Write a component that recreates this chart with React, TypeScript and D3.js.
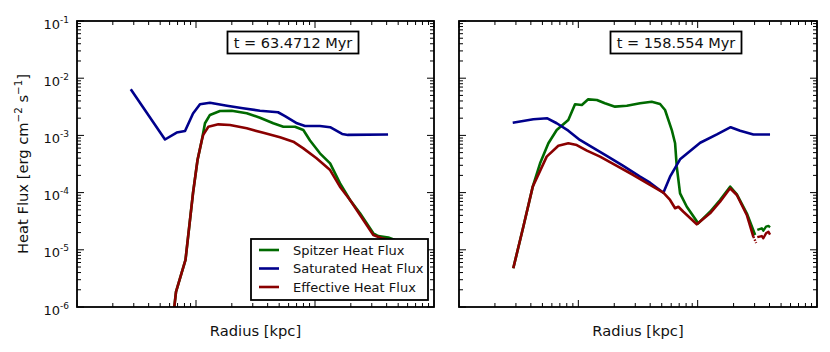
import React from "react";
import * as d3 from "d3";

// ---------- data ----------
const TIME_LABELS = ["t = 63.4712 Myr", "t = 158.554 Myr"];
const SERIES_NAMES = ["Spitzer Heat Flux", "Saturated Heat Flux", "Effective Heat Flux"];
const SERIES_COLORS = ["#006a00", "#00008c", "#8a0000"];
const Y_TICKS = [1e-6, 1e-5, 1e-4, 1e-3, 1e-2, 1e-1];
const Y_TICK_EXP = ["-6", "-5", "-4", "-3", "-2", "-1"];
const X_MAJOR = [1, 10, 100, 1000];

// left panel (t = 63.4712 Myr)
const L_SPI_R = [6.53, 6.79, 8.16, 9.44, 10.3, 11.2, 11.9, 13.1, 15.9, 19.95, 26.7, 34.5, 44.6, 54.2, 67.9, 79.8, 90.8, 110, 134, 162, 197, 239, 309, 340, 413, 470];
const L_SPI_F = [8.9e-7, 1.83e-6, 6.64e-6, 9.84e-5, 3.72e-4, 8.32e-4, 1.63e-3, 2.28e-3, 2.67e-3, 2.7e-3, 2.43e-3, 2.04e-3, 1.63e-3, 1.42e-3, 1.42e-3, 1.24e-3, 8.15e-4, 4.86e-4, 3.25e-4, 1.46e-4, 7.43e-5, 4.35e-5, 1.94e-5, 1.74e-5, 1.64e-5, 1.48e-5];
const L_SAT_R = [2.83, 5.49, 6.88, 8.09, 9.44, 10.8, 13.1, 18.2, 24.8, 34.5, 48.9, 56.0, 70.6, 82.4, 110, 134, 169, 189, 411];
const L_SAT_F = [6.4e-3, 8.48e-4, 1.12e-3, 1.19e-3, 2.42e-3, 3.5e-3, 3.73e-3, 3.3e-3, 2.98e-3, 2.7e-3, 2.54e-3, 2.18e-3, 1.63e-3, 1.46e-3, 1.46e-3, 1.39e-3, 1.06e-3, 1.02e-3, 1.04e-3];
const L_EFF_R = [6.53, 6.79, 8.16, 9.44, 10.3, 11.2, 11.5, 12.7, 15.4, 19.3, 26.7, 36.8, 50.8, 65.7, 79.8, 103, 134, 162, 197, 239, 309, 364, 470];
const L_EFF_F = [8.9e-7, 1.83e-6, 6.64e-6, 9.84e-5, 3.72e-4, 8.32e-4, 1.02e-3, 1.42e-3, 1.56e-3, 1.52e-3, 1.33e-3, 1.11e-3, 9.27e-4, 7.76e-4, 5.94e-4, 3.98e-4, 2.48e-4, 1.27e-4, 7.43e-5, 4.06e-5, 1.82e-5, 1.59e-5, 1.43e-5];

// right panel (t = 158.554 Myr)
const R_SPI_R = [2.85, 3.46, 4.15, 4.78, 5.61, 6.59, 8.24, 9.38, 10.7, 12.1, 14.3, 16.7, 20.3, 25.5, 32.9, 41.2, 48.4, 53.3, 60.7, 64.7, 66.8, 71.2, 81.1, 101, 127, 154, 187, 213, 258, 303];
const R_SPI_F = [4.75e-6, 2.53e-5, 1.27e-4, 3.25e-4, 7.28e-4, 1.24e-3, 1.86e-3, 3.5e-3, 3.4e-3, 4.27e-3, 4.16e-3, 3.64e-3, 3.18e-3, 3.3e-3, 3.64e-3, 3.88e-3, 3.54e-3, 2.78e-3, 1.24e-3, 7.28e-4, 2.84e-4, 9.72e-5, 5.66e-5, 2.9e-5, 4.63e-5, 7.43e-5, 1.27e-4, 9.3e-5, 4.35e-5, 1.82e-5];
const R_SAT_R = [2.82, 4.2, 5.5, 6.59, 8.24, 10.3, 12.5, 17.3, 23.8, 32.9, 39.9, 51.6, 58.7, 71.2, 105, 145, 189, 227, 293, 404];
const R_SAT_F = [1.67e-3, 1.91e-3, 1.99e-3, 1.63e-3, 1.21e-3, 8.32e-4, 6.53e-4, 4.37e-4, 2.92e-4, 1.9e-4, 1.49e-4, 9.95e-5, 1.9e-4, 3.82e-4, 7.45e-4, 1.04e-3, 1.39e-3, 1.21e-3, 1.04e-3, 1.04e-3];
const R_EFF_R = [2.85, 3.46, 4.15, 5.43, 6.8, 8.24, 9.7, 11.8, 15.2, 21.0, 28.9, 39.9, 51.6, 58.7, 64.7, 68.9, 75.9, 98.3, 127, 154, 187, 213, 258, 293];
const R_EFF_F = [4.75e-6, 2.53e-5, 1.27e-4, 4.25e-4, 6.61e-4, 7.28e-4, 6.79e-4, 5.41e-4, 4.25e-4, 2.92e-4, 2.03e-4, 1.36e-4, 9.95e-5, 7.43e-5, 5.32e-5, 5.66e-5, 4.63e-5, 2.79e-5, 4.35e-5, 6.93e-5, 1.19e-4, 9.08e-5, 4.06e-5, 1.69e-5];
const R_EFF_DOT_R = [293, 309];
const R_EFF_DOT_F = [1.69e-5, 1.32e-5];
const R_TAIL_R = [316, 345, 355, 374, 392, 404];
const R_SPI_TAIL_F = [2.22e-5, 2.38e-5, 2.16e-5, 2.54e-5, 2.61e-5, 2.47e-5];
const R_EFF_TAIL_F = [1.66e-5, 1.74e-5, 1.59e-5, 1.94e-5, 2.07e-5, 1.84e-5];

// ---------- layout ----------
const W = 830;
const H = 352;
const PANELS = [
  { x0: 77, x1: 434, box: [227.5, 31.5, 131, 22] },
  { x0: 459, x1: 817, box: [610.5, 31.5, 131, 22] },
];
const Y0 = 307;
const Y1 = 21;
const FONT = "'DejaVu Sans', sans-serif";

type Pt = [number, number];
const zip = (a: number[], b: number[]): Pt[] => a.map((v, i) => [v, b[i]]);

const PANEL_SERIES = [
  {
    lines: [zip(L_SPI_R, L_SPI_F), zip(L_SAT_R, L_SAT_F), zip(L_EFF_R, L_EFF_F)],
    extras: [] as { pts: Pt[]; c: number; dash?: string }[],
  },
  {
    lines: [zip(R_SPI_R, R_SPI_F), zip(R_SAT_R, R_SAT_F), zip(R_EFF_R, R_EFF_F)],
    extras: [
      { pts: zip(R_EFF_DOT_R, R_EFF_DOT_F), c: 2, dash: "1.5,1.5" },
      { pts: zip(R_TAIL_R, R_SPI_TAIL_F), c: 0 },
      { pts: zip(R_TAIL_R, R_EFF_TAIL_F), c: 2 },
    ],
  },
];

function minorTicks(lo: number, hi: number): number[] {
  const out: number[] = [];
  for (let e = Math.floor(Math.log10(lo)); e < Math.ceil(Math.log10(hi)); e++) {
    for (let m = 2; m <= 9; m++) {
      const v = m * Math.pow(10, e);
      if (v > lo && v < hi) out.push(v);
    }
  }
  return out;
}

function Panel({ idx }: { idx: number }) {
  const p = PANELS[idx];
  const x = d3.scaleLog().domain([1, 1000]).range([p.x0, p.x1]);
  const y = d3.scaleLog().domain([1e-6, 1e-1]).range([Y0, Y1]);
  const line = d3
    .line<Pt>()
    .x((d) => x(d[0]))
    .y((d) => y(d[1]));
  const ser = PANEL_SERIES[idx];
  const clipId = `clip${idx}`;
  const xMinor = minorTicks(1, 1000);
  const yMinor = minorTicks(1e-6, 1e-1);
  const MJ = 7;
  const MN = 4;
  return (
    <g>
      <defs>
        <clipPath id={clipId}>
          <rect x={p.x0} y={Y1} width={p.x1 - p.x0} height={Y0 - Y1} />
        </clipPath>
      </defs>
      <g clipPath={`url(#${clipId})`} fill="none" strokeWidth={2.6} strokeLinejoin="round" strokeLinecap="butt">
        {ser.lines.map((pts, i) => (
          <path key={i} d={line(pts) || ""} stroke={SERIES_COLORS[i]} />
        ))}
        {ser.extras.map((e, i) => (
          <path key={"e" + i} d={line(e.pts) || ""} stroke={SERIES_COLORS[e.c]} strokeWidth={2.4} strokeDasharray={e.dash} />
        ))}
      </g>
      {/* ticks */}
      <g stroke="#000" strokeWidth={1}>
        {X_MAJOR.map((v, i) => (
          <g key={"xm" + i}>
            <line x1={x(v)} x2={x(v)} y1={Y0} y2={Y0 - MJ} />
            <line x1={x(v)} x2={x(v)} y1={Y1} y2={Y1 + MJ} />
          </g>
        ))}
        {xMinor.map((v, i) => (
          <g key={"xn" + i}>
            <line x1={x(v)} x2={x(v)} y1={Y0} y2={Y0 - MN} />
            <line x1={x(v)} x2={x(v)} y1={Y1} y2={Y1 + MN} />
          </g>
        ))}
        {Y_TICKS.map((v, i) => (
          <g key={"ym" + i}>
            <line x1={p.x0} x2={p.x0 + MJ} y1={y(v)} y2={y(v)} />
            <line x1={p.x1} x2={p.x1 - MJ} y1={y(v)} y2={y(v)} />
          </g>
        ))}
        {yMinor.map((v, i) => (
          <g key={"yn" + i}>
            <line x1={p.x0} x2={p.x0 + MN} y1={y(v)} y2={y(v)} />
            <line x1={p.x1} x2={p.x1 - MN} y1={y(v)} y2={y(v)} />
          </g>
        ))}
      </g>
      <rect x={p.x0} y={Y1} width={p.x1 - p.x0} height={Y0 - Y1} fill="none" stroke="#000" strokeWidth={1.8} />
      {/* y tick labels only on first panel */}
      {idx === 0 &&
        Y_TICKS.map((v, i) => (
          <text key={"yl" + i} x={p.x0 - 8} y={y(v) + 7.5} textAnchor="end" fontFamily={FONT} fontSize={13} fill="#111">
            10
            <tspan fontSize={9} dy={-6}>
              {Y_TICK_EXP[i]}
            </tspan>
          </text>
        ))}
      {/* time box */}
      <rect x={p.box[0]} y={p.box[1]} width={p.box[2]} height={p.box[3]} fill="#fff" stroke="#000" strokeWidth={1.8} />
      <text
        x={p.box[0] + p.box[2] / 2}
        y={p.box[1] + p.box[3] / 2 + 5.3}
        textAnchor="middle"
        fontFamily={FONT}
        fontSize={14.5}
        fill="#111"
      >
        {TIME_LABELS[idx]}
      </text>
      {/* x label */}
      <text x={(p.x0 + p.x1) / 2} y={335.5} textAnchor="middle" fontFamily={FONT} fontSize={14.7} fill="#111">
        Radius [kpc]
      </text>
      {/* legend */}
      {idx === 0 && (
        <g>
          <rect x={251} y={239} width={177} height={61} fill="#fff" stroke="#000" strokeWidth={1.8} />
          {SERIES_NAMES.map((n, i) => (
            <g key={"lg" + i}>
              <line x1={259} x2={279} y1={250 + i * 18.5} y2={250 + i * 18.5} stroke={SERIES_COLORS[i]} strokeWidth={2.6} />
              <text x={293} y={250 + i * 18.5 + 4.6} fontFamily={FONT} fontSize={13} fill="#111">
                {n}
              </text>
            </g>
          ))}
        </g>
      )}
    </g>
  );
}

export default function App() {
  return (
    <svg
      width={W}
      height={H}
      viewBox={`0 0 ${W} ${H}`}
      style={{ position: "absolute", left: 0, top: 0, background: "#fff" }}
    >
      <rect x={0} y={0} width={W} height={H} fill="#fff" />
      <Panel idx={0} />
      <Panel idx={1} />
      <text
        transform="translate(28,164) rotate(-90)"
        textAnchor="middle"
        fontFamily={FONT}
        fontSize={14.7}
        fill="#111"
      >
        Heat Flux [erg cm
        <tspan fontSize={10.3} dy={-6.5}>
          −2
        </tspan>
        <tspan dy={6.5}> s</tspan>
        <tspan fontSize={10.3} dy={-6.5}>
          −1
        </tspan>
        <tspan dy={6.5}>]</tspan>
      </text>
    </svg>
  );
}
